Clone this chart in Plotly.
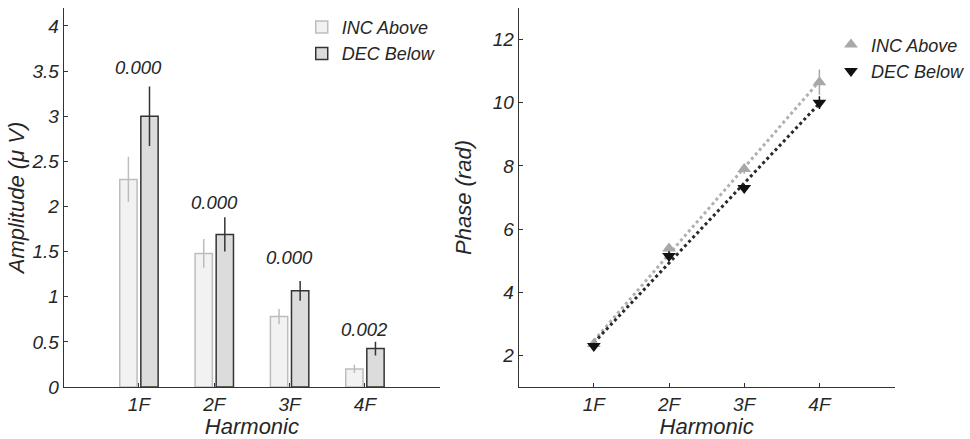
import numpy as np
import plotly.graph_objects as go

harmonics = ["1F", "2F", "3F", "4F"]
xpos = [1, 2, 3, 4]

amp_inc = [2.30, 1.48, 0.78, 0.20]
amp_inc_err = [0.25, 0.16, 0.085, 0.045]
amp_dec = [3.00, 1.69, 1.065, 0.425]
amp_dec_err = [0.33, 0.19, 0.11, 0.075]

p_labels = ["0.000", "0.000", "0.000", "0.002"]
p_label_y = [3.54, 2.04, 1.44, 0.64]

phase_inc = [2.36, 5.38, 7.90, 10.65]
phase_inc_err = [0.10, 0.15, 0.15, 0.40]
phase_dec = [2.30, 5.15, 7.30, 10.00]
phase_dec_err = [0.10, 0.15, 0.12, 0.20]

amp_yticks = [0, 0.5, 1, 1.5, 2, 2.5, 3, 3.5, 4]
amp_yticklabels = ["0", "0.5", "1", "1.5", "2", "2.5", "3", "3.5", "4"]
phase_yticks = [2, 4, 6, 8, 10, 12]

FONT = "Liberation Sans, Arial, sans-serif"
TXT = "#262626"

fig = go.Figure()

fig.add_trace(go.Bar(
    x=xpos, y=amp_inc, width=0.23, offset=-0.255,
    marker=dict(color="#f2f2f2", line=dict(color="#bdbdbd", width=1.5)),
    error_y=dict(type="data", array=amp_inc_err, color="#bdbdbd", thickness=1.5, width=0),
    name="INC Above", xaxis="x", yaxis="y", legend="legend"))
fig.add_trace(go.Bar(
    x=xpos, y=amp_dec, width=0.23, offset=0.025,
    marker=dict(color="#dcdcdc", line=dict(color="#333333", width=1.5)),
    error_y=dict(type="data", array=amp_dec_err, color="#333333", thickness=1.5, width=0),
    name="DEC Below", xaxis="x", yaxis="y", legend="legend"))

for xv, lab, yv in zip(xpos, p_labels, p_label_y):
    fig.add_annotation(x=xv, y=yv, xref="x", yref="y", text=f"<i>{lab}</i>",
                       showarrow=False, font=dict(family=FONT, size=18.5, color=TXT))

# linear fits for phase
xf = np.array(xpos, dtype=float)
for vals, col in [(phase_inc, "#b0b0b0"), (phase_dec, "#2a2a2a")]:
    k, b = np.polyfit(xf, np.array(vals), 1)
    fig.add_trace(go.Scatter(x=[xf[0], xf[-1]], y=[k * xf[0] + b, k * xf[-1] + b],
                             mode="lines", line=dict(color=col, width=3, dash="dot"),
                             showlegend=False, xaxis="x2", yaxis="y2", hoverinfo="skip"))

fig.add_trace(go.Scatter(
    x=xpos, y=phase_inc, mode="markers",
    marker=dict(symbol="triangle-up", size=12, color="#a8a8a8"),
    error_y=dict(type="data", array=phase_inc_err, color="#a8a8a8", thickness=1.5, width=0),
    name="INC Above", xaxis="x2", yaxis="y2", legend="legend2"))
fig.add_trace(go.Scatter(
    x=xpos, y=phase_dec, mode="markers",
    marker=dict(symbol="triangle-down", size=12, color="#111111"),
    error_y=dict(type="data", array=phase_dec_err, color="#111111", thickness=1.5, width=0),
    name="DEC Below", xaxis="x2", yaxis="y2", legend="legend2"))

axis_common = dict(showline=True, linecolor="#333333", linewidth=1, showgrid=False,
                   zeroline=False, ticks="inside", ticklen=4, tickcolor="#333333",
                   automargin=False,
                   tickfont=dict(family=FONT, size=19, color=TXT))

ydom = [0.1185, 0.982]
fig.update_layout(
    width=970, height=439, margin=dict(l=0, r=0, t=0, b=0),
    paper_bgcolor="white", plot_bgcolor="white",
    font=dict(family=FONT, color=TXT),
    xaxis=dict(domain=[0.066, 0.4567], range=[0, 5], tickvals=xpos,
               ticktext=[f"<i>{h}</i>" for h in harmonics],
               title=dict(text="<i>Harmonic</i>", font=dict(size=22, family=FONT, color=TXT), standoff=4),
               anchor="y", **axis_common),
    yaxis=dict(domain=ydom, range=[0, 4.2], tickvals=amp_yticks,
               ticktext=[f"<i>{t}</i>" for t in amp_yticklabels],
               title=dict(text="<i>Amplitude (μ V)</i>", font=dict(size=22, family=FONT, color=TXT), standoff=0),
               anchor="x", **axis_common),
    xaxis2=dict(domain=[0.538, 0.928], range=[0, 5], tickvals=xpos,
                ticktext=[f"<i>{h}</i>" for h in harmonics],
                title=dict(text="<i>Harmonic</i>", font=dict(size=22, family=FONT, color=TXT), standoff=4),
                anchor="y2", **axis_common),
    yaxis2=dict(domain=ydom, range=[1, 13], tickvals=phase_yticks,
                ticktext=[f"<i>{t}</i>" for t in phase_yticks],
                title=dict(text="<i>Phase (rad)</i>", font=dict(size=22, family=FONT, color=TXT), standoff=14),
                anchor="x2", **axis_common),
    legend=dict(x=0.313, y=0.98, xanchor="left", yanchor="top", bgcolor="rgba(0,0,0,0)",
                font=dict(family=FONT, size=18, color=TXT), itemwidth=30, tracegroupgap=0),
    legend2=dict(x=0.862, y=0.94, xanchor="left", yanchor="top", bgcolor="rgba(0,0,0,0)",
                 font=dict(family=FONT, size=18, color=TXT), itemwidth=30),
    showlegend=True, barmode="overlay",
)
fig.for_each_trace(lambda t: t.update(name=f"<i>{t.name}</i>") if t.name else None)

fig.write_html("out.html")
